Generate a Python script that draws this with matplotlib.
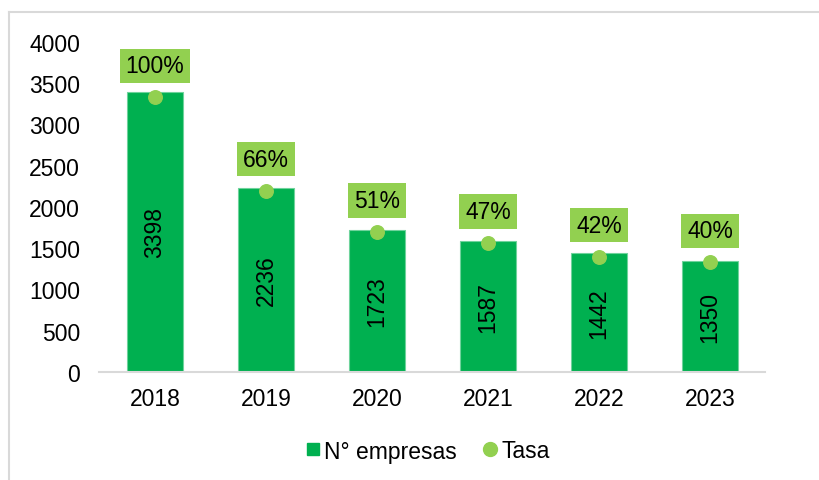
import matplotlib
matplotlib.use("Agg")
import matplotlib.pyplot as plt
from matplotlib.lines import Line2D

plt.rcParams['font.family'] = ['Liberation Sans', 'DejaVu Sans']

years = ["2018", "2019", "2020", "2021", "2022", "2023"]
empresas = [3398, 2236, 1723, 1587, 1442, 1350]
tasa = [1.00, 0.66, 0.51, 0.47, 0.42, 0.40]
yticks = [0, 500, 1000, 1500, 2000, 2500, 3000, 3500, 4000]

bar_color = "#00B050"
pt_color = "#92D050"
FS = 16.5

fig = plt.figure(figsize=(8.2, 4.81), dpi=100)
ax = fig.add_axes([99.5/820, 1-373/481, (765.5-99.5)/820, (373-43)/481])
x = list(range(len(years)))
bars = ax.bar(x, empresas, width=0.5, color=bar_color, edgecolor="#6FD39C", linewidth=0.8, zorder=2)
ax.set_ylim(0, 4000)
ax.set_xlim(-0.5, len(years)-0.5)
ax.set_yticks(yticks)
ax.set_yticklabels([str(v) for v in yticks], fontsize=FS)
ax.set_xticks(x)
ax.set_xticklabels(years, fontsize=FS)
ax.tick_params(axis='y', length=0, pad=14)
ax.tick_params(axis='x', length=0, pad=11)
for s in ["top", "right", "left"]:
    ax.spines[s].set_visible(False)
ax.spines["bottom"].set_color("#D9D9D9")
ax.spines["bottom"].set_linewidth(1.5)

for xi, v in zip(x, empresas):
    ax.text(xi, v/2, str(v), rotation=90, ha='center', va='center', fontsize=FS, color='black', zorder=4)

ax2 = ax.twinx()
ax2.set_ylim(0, 1.2)
ax2.set_position(ax.get_position())
ax2.axis('off')
ax2.scatter(x, tasa, s=95, color=pt_color, zorder=5)
for xi, t in zip(x, tasa):
    ax2.annotate(f"{int(round(t*100))}%", (xi, t), xytext=(0, 22.5), textcoords='offset points',
                 ha='center', va='center', fontsize=FS, color='black',
                 bbox=dict(boxstyle='square,pad=0.25', facecolor=pt_color, edgecolor='none'))

handles = [Line2D([], [], marker='s', color=bar_color, linestyle='none', markersize=9),
           Line2D([], [], marker='o', color=pt_color, linestyle='none', markersize=10)]
fig.legend(handles, ["N° empresas", "Tasa"], loc='center', bbox_to_anchor=(426/820, 1-452/481),
           ncol=2, frameon=False, fontsize=FS, handletextpad=0.05, columnspacing=1.0, handlelength=0.9)

fig.add_artist(Line2D([9/820, 9/820], [0, 1-13/481], transform=fig.transFigure, color="#D9D9D9", linewidth=1.5))
fig.add_artist(Line2D([9/820, 1], [1-13/481, 1-13/481], transform=fig.transFigure, color="#D9D9D9", linewidth=1.5))

fig.savefig("out.png", dpi=100)
